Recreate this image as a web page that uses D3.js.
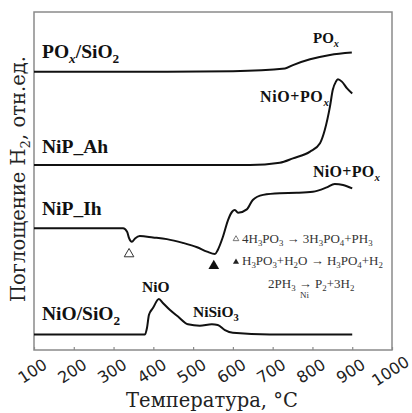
<!DOCTYPE html>
<html><head><meta charset="utf-8">
<script src="https://cdn.jsdelivr.net/npm/d3@7"></script>
<style>html,body{margin:0;padding:0;background:#fff;}svg{display:block;}</style>
</head><body>
<svg id="c" width="412" height="413"></svg>
<script>
// ---- data (temperature °C, H2 uptake arb. units) ----
const tickValues = [100,200,300,400,500,600,700,800,900,1000];

const poxT = [100,400,600,731,751,794,844,899];
const poxV = [82.3,82.3,82.5,83.3,84.3,86.0,87.3,88.0];

const ahT = [100,400,643,718,751,794,819,831,844,851,859,864,874,887,900];
const ahV = [54.7,54.7,54.7,55.4,56.7,58.7,61.2,65.1,72.0,76.9,79.4,80.1,79.4,77.4,75.9];

const ihT = [100,324,334,339,346,354,366,399,434,474,510,535,555,562,575,588,598,605,613,635,650,676,718,761,801,836,856,877,900];
const ihV = [36.0,36.0,35.0,33.1,32.0,33.0,33.7,33.3,32.8,31.7,30.4,29.1,28.4,29.6,33.5,38.5,40.9,41.4,40.6,41.6,44.4,45.9,46.4,46.5,46.8,48.1,49.1,48.8,47.8];

const nioT = [100,379,384,389,399,414,424,442,462,487,517,547,562,580,600,693,900];
const nioV = [4.6,4.6,6.5,10.4,12.4,15.1,13.9,11.8,9.9,7.6,7.2,7.6,7.4,5.9,5.1,4.6,4.6];

const markerT = [339, 552];
const markerV = [28.4, 24.9];

// ---- layout ----
const svg = d3.select("#c");
const L = 34, R = 392, T = 12, B = 350;
const x = d3.scaleLinear().domain([100,1000]).range([L,R]);
const y = d3.scaleLinear().domain([0,100]).range([B,T]);

// frame
svg.append("rect").attr("x",L).attr("y",T).attr("width",R-L).attr("height",B-T)
  .attr("fill","none").attr("stroke","#8a8a8a").attr("stroke-width",1.5);

// x axis
const ax = svg.append("g").attr("transform",`translate(0,${B})`)
  .call(d3.axisBottom(x).tickValues(tickValues).tickSize(-3).tickFormat(""));
ax.select(".domain").remove();
ax.selectAll("line").attr("stroke","#8a8a8a").attr("stroke-width",1.2);
ax.selectAll(".tick").append("text")
  .attr("transform","translate(-2,21) rotate(-33)")
  .attr("text-anchor","middle").attr("dy","0.35em")
  .attr("fill","#222").attr("font-family","DejaVu Sans").attr("font-size",16)
  .text(d=>d);

// axis titles
svg.append("text").attr("x",212).attr("y",407).attr("text-anchor","middle")
  .attr("font-family","DejaVu Serif").attr("font-size",19.5).attr("fill","#222")
  .text("Температура, °C");

function rich(g, parts, size){
  // parts: [text, sub?, italic?]
  let shifted = false;
  parts.forEach(p=>{
    const t = g.append("tspan").text(p[0]);
    if(p[1]){ t.attr("font-size",size*0.68); if(!shifted){t.attr("dy",size*0.25); shifted=true;} }
    else { t.attr("font-size",size); if(shifted){t.attr("dy",-size*0.25); shifted=false;} }
    if(p[2]) t.attr("font-style","italic");
  });
  return g;
}

const yl = svg.append("text").attr("transform","translate(25,179) rotate(-90)")
  .attr("text-anchor","middle").attr("font-family","DejaVu Serif").attr("fill","#222");
rich(yl, [["Поглощение H"],["2",1],[", отн.ед."]], 19.5);

// curves
const line = d3.line().x(d=>x(d[0])).y(d=>y(d[1])).curve(d3.curveMonotoneX);
[[poxT,poxV],[ahT,ahV],[ihT,ihV],[nioT,nioV]].forEach(([ts,vs])=>{
  svg.append("path").attr("d",line(ts.map((t,i)=>[t,vs[i]])))
    .attr("fill","none").attr("stroke","#111").attr("stroke-width",2)
    .attr("stroke-linejoin","round");
});

// markers
svg.append("path").attr("transform",`translate(${x(markerT[0])},${y(markerV[0])})`)
  .attr("d",d3.symbol(d3.symbolTriangle,40)()).attr("fill","#fff").attr("stroke","#333").attr("stroke-width",1);
svg.append("path").attr("transform",`translate(${x(markerT[1])},${y(markerV[1])})`)
  .attr("d",d3.symbol(d3.symbolTriangle,50)()).attr("fill","#111");

// labels
function label(px, py, parts, size, opts={}){
  const t = svg.append("text").attr("x",px).attr("y",py)
    .attr("font-family","Liberation Serif").attr("font-weight",opts.normal?"normal":"bold")
    .attr("fill",opts.fill||"#111");
  if(opts.ls) t.attr("letter-spacing",opts.ls);
  rich(t, parts, size);
  return t;
}
label(42,58,[["PO"],["x",1,1],["/SiO"],["2",1]],19.5);
label(313,43,[["PO"],["x",1,1]],15);
label(260,102,[["NiO+PO"],["x",1,1]],16,{ls:0.6});
label(42,153,[["NiP_Ah"]],19.5);
label(313,177,[["NiO+PO"],["x",1,1]],16,{ls:0.3});
label(42,215,[["NiP_Ih"]],19.5);
label(142,292,[["NiO"]],15.5);
label(193,317,[["NiSiO"],["3",1]],15.5);
label(42,320,[["NiO/SiO"],["2",1]],19.5);

// equations
const ef = {normal:true, fill:"#333"};
svg.append("path").attr("transform","translate(236,239)")
  .attr("d",d3.symbol(d3.symbolTriangle,14)()).attr("fill","#fff").attr("stroke","#555").attr("stroke-width",0.8);
label(242,243,[["4H"],["3",1],["PO"],["3",1],[" → 3H"],["3",1],["PO"],["4",1],["+PH"],["3",1]],13,ef);
svg.append("path").attr("transform","translate(236,262)")
  .attr("d",d3.symbol(d3.symbolTriangle,16)()).attr("fill","#222");
label(242,265,[["H"],["3",1],["PO"],["3",1],["+H"],["2",1],["O → H"],["3",1],["PO"],["4",1],["+H"],["2",1]],13,ef);
label(268,288,[["2PH"],["3",1],[" → P"],["2",1],["+3H"],["2",1]],13,ef);
label(300,298,[["Ni"]],9,ef);
</script>
</body></html>
